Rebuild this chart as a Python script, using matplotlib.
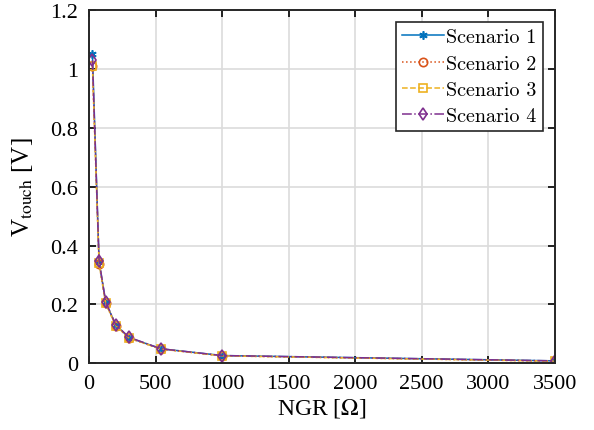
import matplotlib
matplotlib.use('Agg')
import matplotlib.pyplot as plt
import numpy as np

plt.rcParams['font.family'] = ['Liberation Serif', 'DejaVu Serif']
plt.rcParams['mathtext.fontset'] = 'stix'

ngr = [25, 75, 125, 200, 300, 540, 1000, 3500]
s1 = [1.050, 0.345, 0.207, 0.130, 0.087, 0.049, 0.026, 0.008]
s2 = [1.010, 0.338, 0.203, 0.128, 0.085, 0.048, 0.025, 0.007]
s3 = [1.012, 0.340, 0.204, 0.128, 0.086, 0.048, 0.025, 0.007]
s4 = [1.030, 0.348, 0.208, 0.131, 0.088, 0.049, 0.026, 0.008]
labels = ['Scenario 1', 'Scenario 2', 'Scenario 3', 'Scenario 4']

colors = ['#0072BD', '#D95319', '#EDB120', '#7E2F8E']
markers = [(6, 2, 0), 'o', 's', 'd']
styles = ['-', ':', '--', '-.']

fig = plt.figure(figsize=(5.94, 4.31), dpi=100)
ax = fig.add_axes([0.150, 0.155, 0.784, 0.819])

for y, lab, c, m, ls in zip([s1, s2, s3, s4], labels, colors, markers, styles):
    ax.plot(ngr, y, color=c, marker=m, linestyle=ls, label=lab,
            markersize=6, markerfacecolor='none', markeredgewidth=1.2,
            linewidth=1.1)

ax.set_xlim(0, 3500)
ax.set_ylim(0, 1.2)
ax.set_xticks(np.arange(0, 3501, 500))
ax.set_yticks([0, 0.2, 0.4, 0.6, 0.8, 1.0, 1.2])
ax.set_yticklabels(['0', '0.2', '0.4', '0.6', '0.8', '1', '1.2'])
ax.grid(True, color='#dcdcdc', linewidth=1.2)
ax.set_axisbelow(True)
ax.tick_params(direction='in', top=True, right=True, labelsize=16, length=5, width=1.2, pad=8)
for sp in ax.spines.values():
    sp.set_linewidth(1.4)
    sp.set_color('#262626')

ax.set_xlabel(r'NGR [$\Omega$]', fontsize=17, labelpad=2)
ax.set_ylabel(r'V$_{\mathrm{touch}}$ [V]', fontsize=18, labelpad=11)

leg = ax.legend(loc='upper right', prop={'family': 'cmr10', 'size': 14.5},
                frameon=True, fancybox=False, edgecolor='#262626', framealpha=1,
                handlelength=2.1, handletextpad=0.12, borderpad=0.3,
                labelspacing=0.4, borderaxespad=0.6)
leg.get_frame().set_linewidth(1.2)

fig.savefig('out.png', dpi=100)
